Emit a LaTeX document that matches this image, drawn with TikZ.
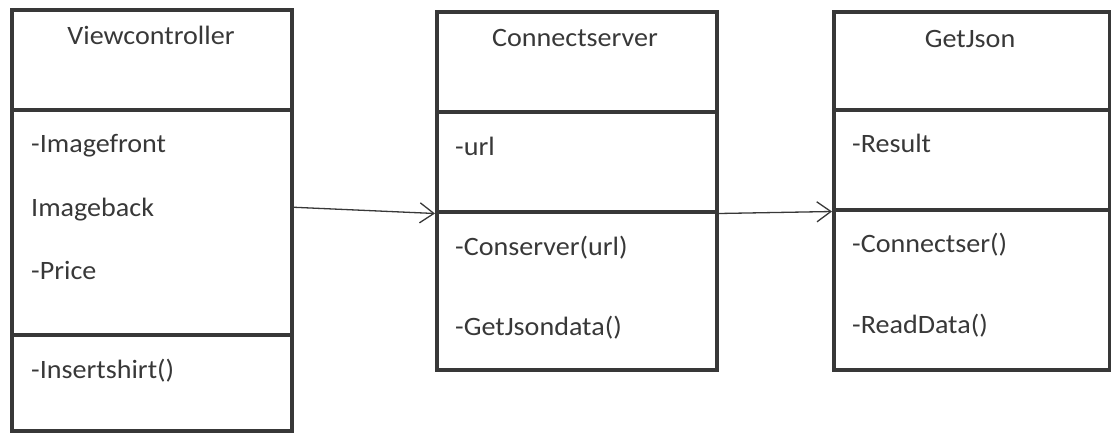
\documentclass[tikz,border=0pt]{standalone}
\usepackage{fontspec}
\setmainfont{Carlito}[FakeStretch=1.06]
\usetikzlibrary{arrows.meta}
\definecolor{ink}{HTML}{383838}

\begin{document}
\begin{tikzpicture}[x=1pt,y=-1pt,
  compart/.style={draw=ink,line width=3.5pt,anchor=north west,inner sep=0pt},
  member/.style={anchor=base west,inner sep=0pt,text=ink,font=\fontsize{26.5}{31}\selectfont},
  title/.style={member,anchor=base},
  link/.style={draw=ink,line width=1.3pt,-{Straight Barb[length=14pt,width=20pt,line width=1.3pt]}}]
\useasboundingbox (0,0) rectangle (1111,432);
%%Viewcontroller
\node[compart,minimum width=280pt,minimum height=100pt] (vchead) at (10,8) {};
\node[compart,minimum width=280pt,minimum height=225pt] (vcattr) at (10,108) {};
\node[compart,minimum width=280pt,minimum height=96pt] (vcmeth) at (10,333) {};
\node[title] (vcname) at (151,44) {Viewcontroller};
\node[member] (vca1) at (31,152) {-Imagefront};
\node[member] (vca2) at (31,216) {Imageback};
\node[member] (vca3) at (31,279) {-Price};
\node[member] (vcm1) at (31,378) {-Insertshirt()};

%%Connectserver
\node[compart,minimum width=280pt,minimum height=100pt] (cshead) at (435,10) {};
\node[compart,minimum width=280pt,minimum height=100pt] (csattr) at (435,110) {};
\node[compart,minimum width=280pt,minimum height=158pt] (csmeth) at (435,210) {};
\node[title] (csname) at (575,46) {Connectserver};
\node[member] (csa1) at (455,155) {-url};
\node[member] (csm1) at (455,255) {-Conserver(url)};
\node[member] (csm2) at (455,335) {-GetJsondata()};

%%GetJson
\node[compart,minimum width=276pt,minimum height=98pt] (gjhead) at (832,10) {};
\node[compart,minimum width=276pt,minimum height=100pt] (gjattr) at (832,108) {};
\node[compart,minimum width=276pt,minimum height=160pt] (gjmeth) at (832,208) {};
\node[title] (gjname) at (970,47) {GetJson};
\node[member] (gja1) at (852,152) {-Result};
\node[member] (gjm1) at (852,252) {-Connectser()};
\node[member] (gjm2) at (852,333) {-ReadData()};

%%Links
\coordinate (vcout) at ([yshift=15pt]vcattr.east);
\draw[link] (vcout) -- (csattr.south west);
\draw[link] (csattr.south east) -- (gjattr.south west);
\end{tikzpicture}
\end{document}
